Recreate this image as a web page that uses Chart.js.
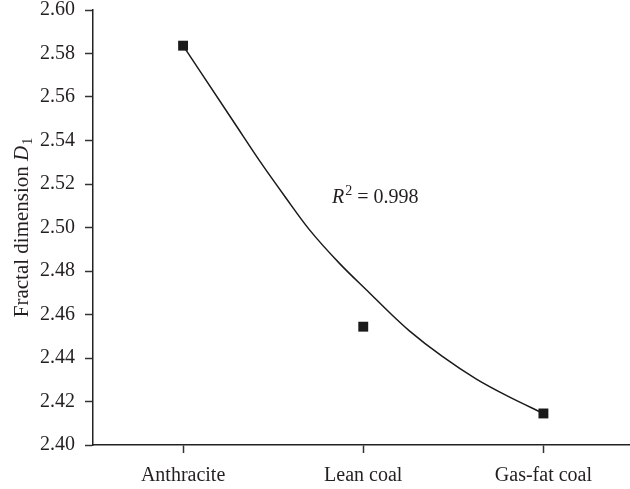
<!DOCTYPE html>
<html>
<head>
<meta charset="utf-8">
<script src="https://cdn.jsdelivr.net/npm/chart.js@4"></script>
<style>
  html, body { margin: 0; padding: 0; background: #fff; overflow: hidden; }
  #wrap { width: 636px; height: 489px; }
</style>
</head>
<body>
<div id="wrap"><canvas id="chart"></canvas></div>
<script>
// data
const categories = ["Anthracite", "Lean coal", "Gas-fat coal"];
const fractalD1 = [2.5836, 2.4544, 2.4145];
// fitted curve, sampled along the drawn line (x = category index)
const fitX = [0, 0.287, 0.425, 0.569, 0.702, 0.868, 1.035, 1.157, 1.256, 1.439, 1.628, 1.81, 2];
const fitY = [2.5836, 2.5478, 2.5306, 2.5138, 2.4989, 2.4835, 2.4699, 2.46, 2.4525, 2.4407, 2.4303, 2.4221, 2.4145];
const yTicks = [2.40, 2.42, 2.44, 2.46, 2.48, 2.50, 2.52, 2.54, 2.56, 2.58, 2.60];
const rSquared = "0.998";

const FONT = "'Liberation Serif', 'Times New Roman', serif";
const INK = "#231f20";

const textPlugin = {
  id: "texts",
  afterDraw(chart) {
    const ctx = chart.ctx;
    ctx.save();
    ctx.fillStyle = INK;
    ctx.textBaseline = "alphabetic";

    // y axis title: Fractal dimension D1
    const normal = "21px " + FONT;
    const italic = "italic 21px " + FONT;
    const small = "14px " + FONT;
    ctx.font = normal;
    const w1 = ctx.measureText("Fractal dimension ").width;
    ctx.font = italic;
    const w2 = ctx.measureText("D").width;
    ctx.font = small;
    const w3 = ctx.measureText("1").width;
    const total = w1 + w2 + 1 + w3;
    const midY = (chart.chartArea.top + chart.chartArea.bottom) / 2;
    ctx.translate(28, midY);
    ctx.rotate(-Math.PI / 2);
    let x = -total / 2;
    ctx.font = normal;
    ctx.fillText("Fractal dimension ", x, 0);
    x += w1;
    ctx.font = italic;
    ctx.fillText("D", x, 0);
    x += w2 + 1;
    ctx.font = small;
    ctx.fillText("1", x, 4);
    ctx.restore();

    // R^2 label
    ctx.save();
    ctx.fillStyle = INK;
    const rFont = "20px " + FONT;
    const rItalic = "italic 20px " + FONT;
    let rx = 332, ry = 203;
    ctx.font = rItalic;
    ctx.fillText("R", rx, ry);
    rx += ctx.measureText("R").width + 1;
    ctx.font = small;
    ctx.fillText("2", rx, ry - 8);
    rx += ctx.measureText("2").width;
    ctx.font = rFont;
    ctx.fillText(" = " + rSquared, rx, ry);
    ctx.restore();
  }
};

new Chart(document.getElementById("chart"), {
  type: "scatter",
  data: {
    datasets: [
      {
        label: "Fit",
        data: fitX.map((v, i) => ({ x: v, y: fitY[i] })),
        showLine: true,
        borderColor: "#1a1a1a",
        borderWidth: 1.5,
        pointRadius: 0,
        cubicInterpolationMode: "monotone"
      },
      {
        label: "Fractal dimension D1",
        data: fractalD1.map((v, i) => ({ x: i, y: v })),
        showLine: false,
        pointStyle: "rect",
        pointRadius: 7,
        pointHoverRadius: 7,
        backgroundColor: "#1a1a1a",
        borderColor: "#1a1a1a",
        borderWidth: 0
      }
    ]
  },
  options: {
    responsive: true,
    maintainAspectRatio: false,
    animation: false,
    layout: { padding: { top: 10, right: 0, left: 0, bottom: 0 } },
    plugins: {
      legend: { display: false },
      tooltip: { enabled: false }
    },
    scales: {
      x: {
        type: "linear",
        min: -0.5,
        max: 2.475,
        afterBuildTicks: (s) => { s.ticks = categories.map((_, i) => ({ value: i })); },
        afterFit: (s) => { s.height = 44; s.paddingLeft = 0; s.paddingRight = 0; },
        ticks: {
          callback: (v) => categories[v],
          color: INK,
          font: { family: FONT, size: 20 },
          padding: 11,
          maxRotation: 0
        },
        grid: {
          drawOnChartArea: false,
          drawTicks: true,
          tickLength: 8,
          color: "#333",
          tickWidth: 1.5
        },
        border: { color: "#222", width: 1.5 }
      },
      y: {
        min: 2.40,
        max: 2.60,
        afterBuildTicks: (s) => { s.ticks = yTicks.map((v) => ({ value: v })); },
        afterFit: (s) => { s.width = 93; s.paddingTop = 0; s.paddingBottom = 0; },
        ticks: {
          callback: (v) => v.toFixed(2),
          color: INK,
          font: { family: FONT, size: 20 },
          padding: 10
        },
        grid: {
          drawOnChartArea: false,
          drawTicks: true,
          tickLength: 8,
          color: "#333",
          tickWidth: 1.5
        },
        border: { color: "#222", width: 1.5 }
      }
    }
  },
  plugins: [textPlugin]
});
</script>
</body>
</html>
